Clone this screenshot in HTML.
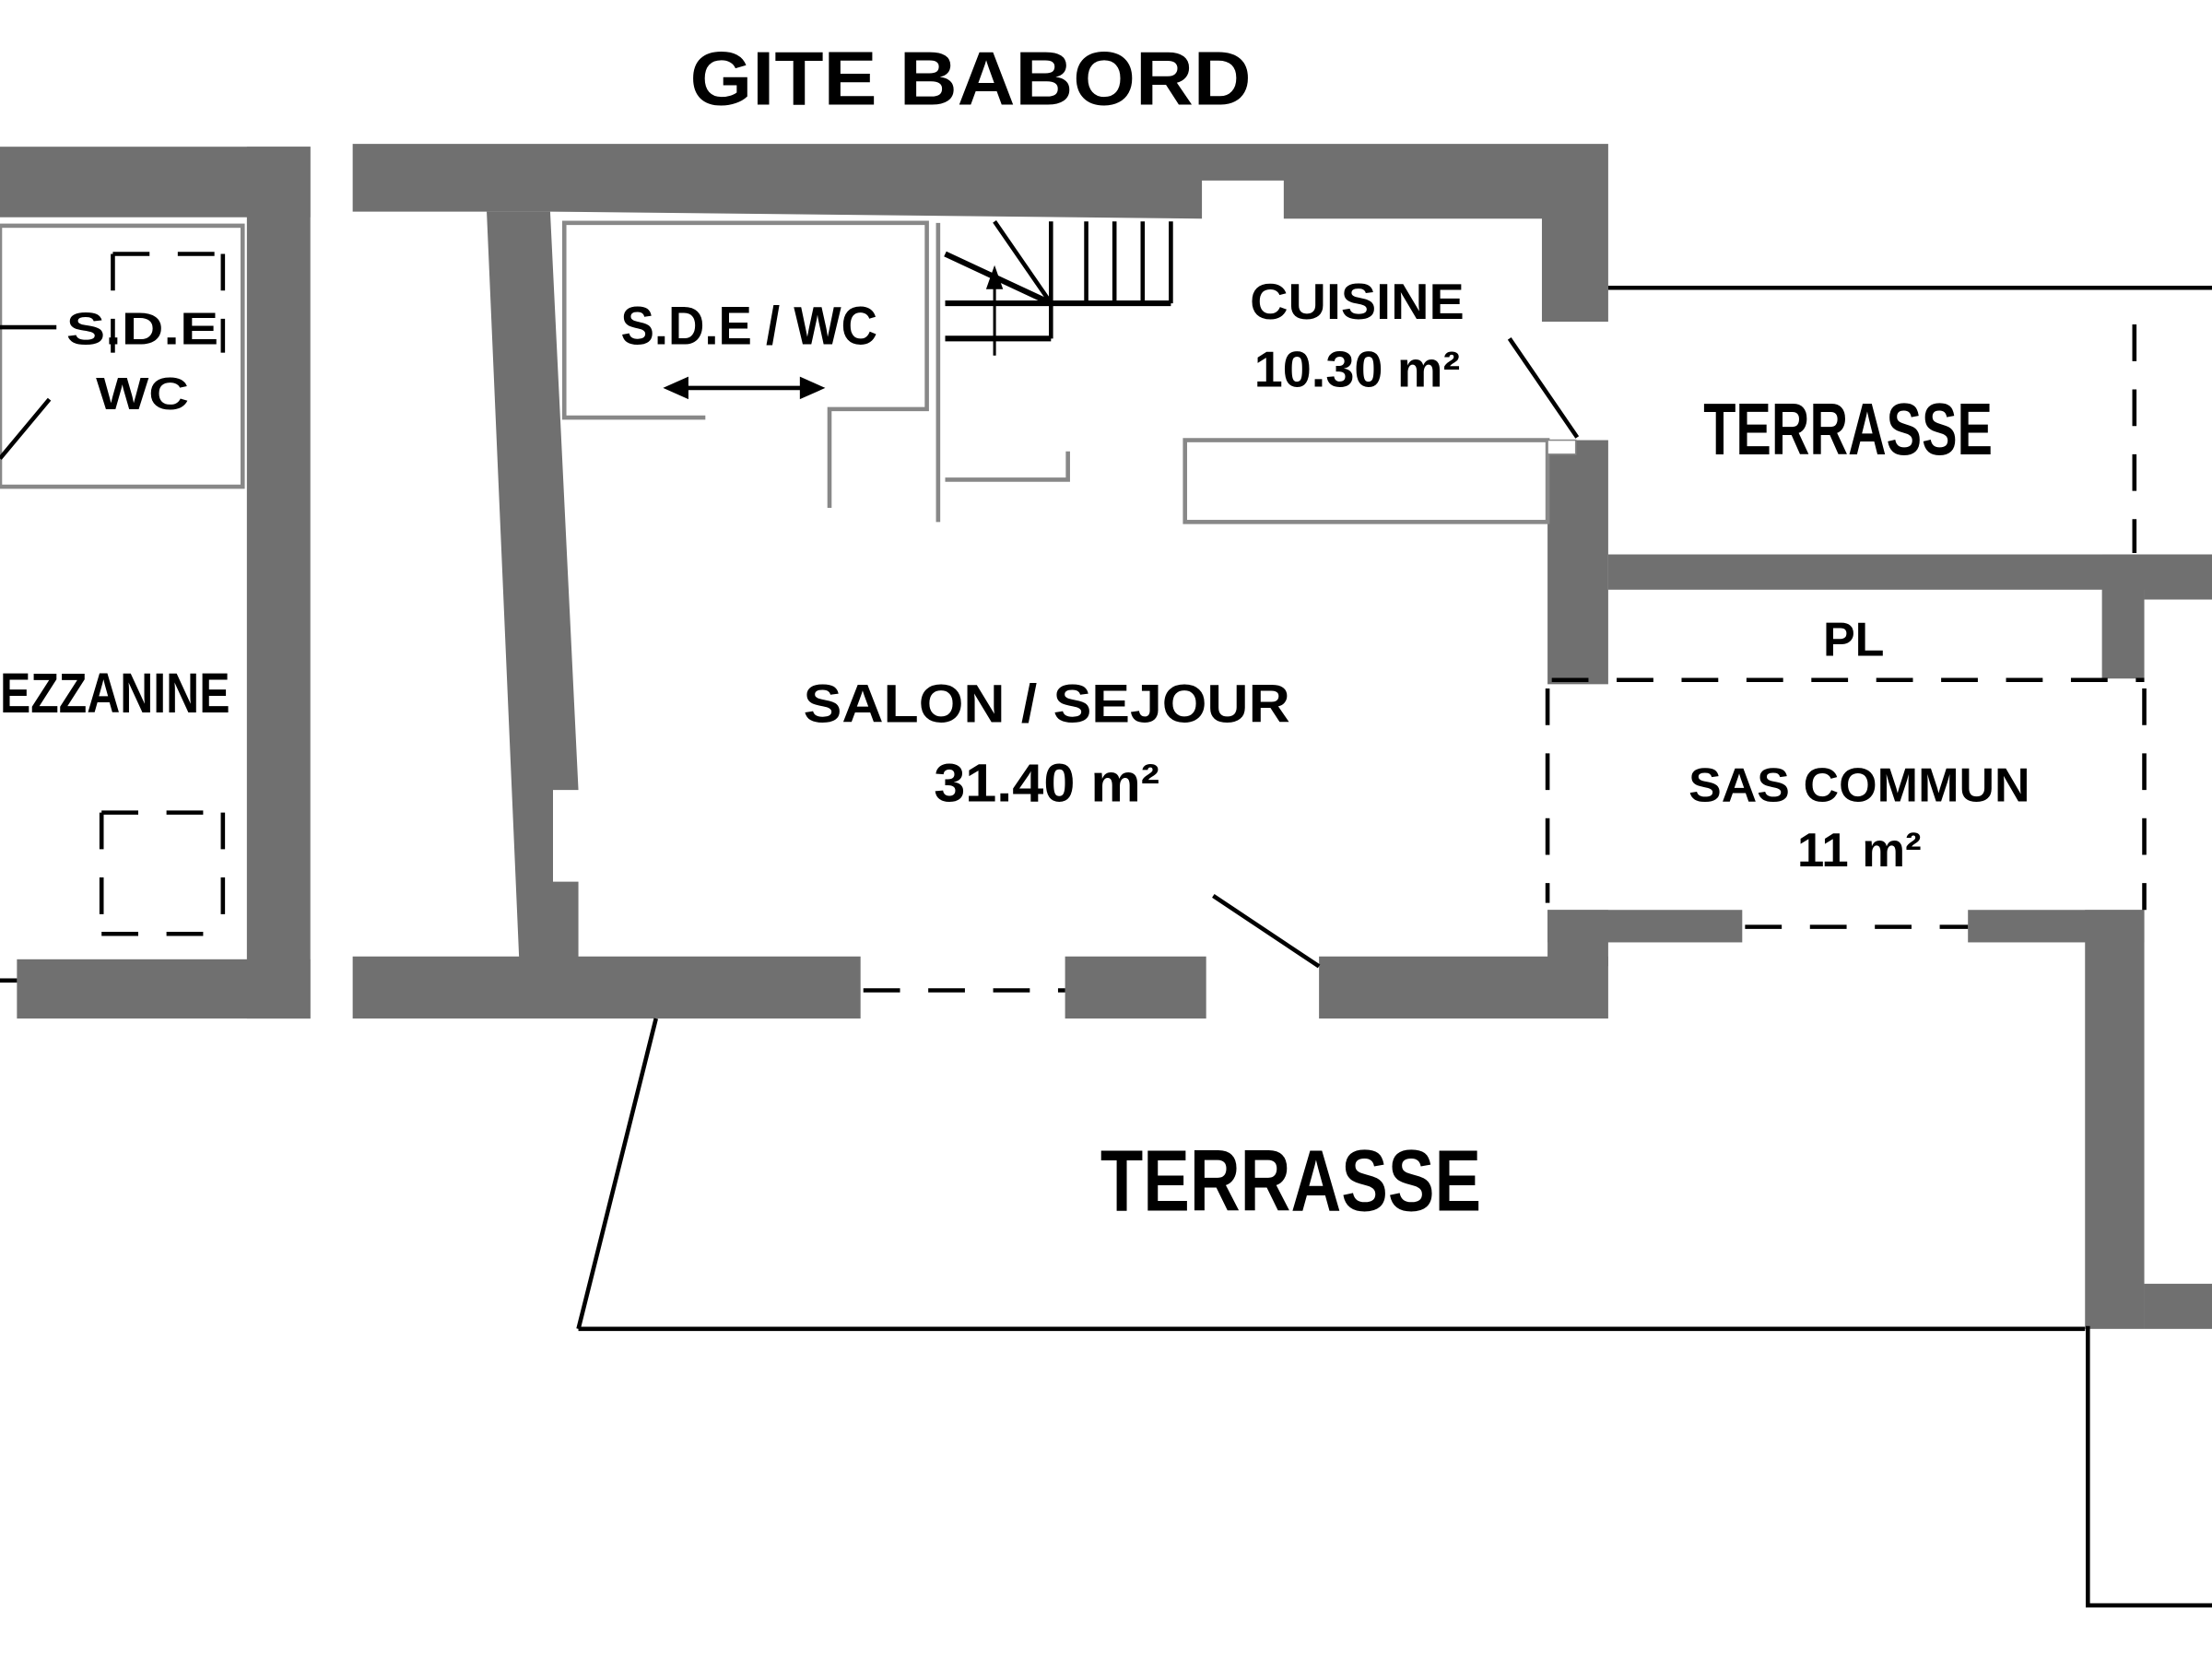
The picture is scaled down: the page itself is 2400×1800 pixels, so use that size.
<!DOCTYPE html>
<html><head><meta charset="utf-8"><style>
html,body{margin:0;padding:0;background:#fff;}
svg{display:block}
text{font-family:"Liberation Sans",Arial,sans-serif;font-weight:bold;fill:#000}
</style></head><body>
<svg width="2400" height="1800" viewBox="0 0 1568 1176" xmlns="http://www.w3.org/2000/svg">
<rect width="1568" height="1176" fill="#fff"/>
<g fill="#707070">
<!-- left building -->
<rect x="0" y="104" width="220" height="50"/>
<rect x="175" y="104" width="45" height="618"/>
<rect x="12" y="680" width="208" height="42"/>
<!-- main top wall -->
<polygon points="250,102 1140,102 1140,228 1093,228 1093,155 910,155 910,128 852,128 852,155 390,150 345,150 250,150"/>
<!-- left slanted wall -->
<polygon points="345,150 390,150 410,560 392,560 392,625 410,625 410,680 368,680"/>
<!-- bottom walls -->
<rect x="250" y="678" width="360" height="44"/>
<rect x="755" y="678" width="100" height="44"/>
<rect x="935" y="678" width="205" height="44"/>
<rect x="1097" y="645" width="43" height="40"/>
<rect x="1097" y="645" width="138" height="23"/>
<rect x="1395" y="645" width="125" height="23"/>
<rect x="1478" y="645" width="42" height="297"/>
<rect x="1520" y="910" width="48" height="32"/>
<!-- right walls -->
<rect x="1097" y="312" width="43" height="173"/>
<rect x="1140" y="393" width="428" height="25"/>
<rect x="1490" y="393" width="30" height="88"/>
<rect x="1520" y="393" width="48" height="32"/>
</g>
<!-- inner gray outlines -->
<g fill="none" stroke="#888" stroke-width="3">
<rect x="0" y="160" width="172" height="185"/>
<polyline points="500,296 400,296 400,158 657,158 657,290 588,290 588,360"/>
<polyline points="665,158 665,370"/>
<polyline points="670,340 757,340 757,320"/>
<rect x="840" y="312" width="257" height="58"/>
</g>
<rect x="1097" y="312" width="20" height="10" fill="#fff" stroke="#888" stroke-width="1"/>
<!-- black lines -->
<g stroke="#000" stroke-width="3" fill="none">
<line x1="1140" y1="204" x2="1568" y2="204"/>
<line x1="465" y1="722" x2="410" y2="942"/>
<line x1="410" y1="942" x2="1478" y2="942"/>
<polyline points="1480,940 1480,1138 1568,1138"/>
<line x1="860" y1="635" x2="935" y2="685"/>
<line x1="1070" y1="240" x2="1118" y2="310"/>
<line x1="0" y1="325" x2="35" y2="283"/>
<line x1="0" y1="695" x2="12" y2="695"/>
<line x1="0" y1="232" x2="40" y2="232"/>
<!-- stairs -->
<line x1="745" y1="157" x2="745" y2="240"/>
<line x1="770" y1="157" x2="770" y2="215"/>
<line x1="790" y1="157" x2="790" y2="215"/>
<line x1="810" y1="157" x2="810" y2="215"/>
<line x1="830" y1="157" x2="830" y2="215"/>
<line x1="670" y1="215" x2="830" y2="215" stroke-width="4"/>
<line x1="670" y1="240" x2="745" y2="240" stroke-width="4"/>
<line x1="705" y1="157" x2="745" y2="215"/>
<line x1="670" y1="180" x2="745" y2="215" stroke-width="4"/>
<line x1="705" y1="252" x2="705" y2="200" stroke-width="2"/>
<line x1="480" y1="275" x2="575" y2="275"/>
</g>
<polygon points="705,188 699,205 711,205" fill="#000"/>
<polygon points="470,275 488,267 488,283" fill="#000"/>
<polygon points="585,275 567,267 567,283" fill="#000"/>
<!-- dashed -->
<g stroke="#000" stroke-width="3" fill="none" stroke-dasharray="26,20">
<line x1="612" y1="702" x2="755" y2="702"/>
<line x1="1513" y1="230" x2="1513" y2="392"/>
<line x1="1100" y1="482" x2="1520" y2="482"/>
<line x1="1097" y1="488" x2="1097" y2="640"/>
<line x1="1520" y1="488" x2="1520" y2="645"/>
<line x1="1237" y1="657" x2="1395" y2="657"/>
<line x1="80" y1="180" x2="160" y2="180"/>
<line x1="72" y1="662" x2="160" y2="662"/>
<line x1="72" y1="576" x2="160" y2="576"/>
<line x1="72" y1="576" x2="72" y2="662"/>
<line x1="158" y1="576" x2="158" y2="662"/>
<line x1="80" y1="180" x2="80" y2="250"/>
<line x1="158" y1="180" x2="158" y2="250"/>
</g>
<!-- text -->
<text x="688" y="74" font-size="54" text-anchor="middle" textLength="398" lengthAdjust="spacingAndGlyphs">GITE BABORD</text>
<text x="531" y="244" font-size="38" text-anchor="middle" textLength="182" lengthAdjust="spacingAndGlyphs">S.D.E / WC</text>
<text x="962" y="226" font-size="36" text-anchor="middle" textLength="152" lengthAdjust="spacingAndGlyphs">CUISINE</text>
<text x="962" y="274" font-size="36" text-anchor="middle" textLength="146" lengthAdjust="spacingAndGlyphs">10.30 m²</text>
<text x="1310" y="322" font-size="52" text-anchor="middle" textLength="205" lengthAdjust="spacingAndGlyphs">TERRASSE</text>
<text x="1314" y="465" font-size="34" text-anchor="middle">PL</text>
<text x="742" y="512" font-size="38" text-anchor="middle" textLength="345" lengthAdjust="spacingAndGlyphs">SALON / SEJOUR</text>
<text x="742" y="568" font-size="38" text-anchor="middle" textLength="160" lengthAdjust="spacingAndGlyphs">31.40 m²</text>
<text x="1318" y="568" font-size="34" text-anchor="middle" textLength="242" lengthAdjust="spacingAndGlyphs">SAS COMMUN</text>
<text x="1318" y="614" font-size="34" text-anchor="middle" textLength="88" lengthAdjust="spacingAndGlyphs">11 m²</text>
<text x="915" y="858" font-size="62" text-anchor="middle" textLength="270" lengthAdjust="spacingAndGlyphs">TERRASSE</text>
<text x="163" y="505" font-size="40" text-anchor="end" textLength="163" lengthAdjust="spacingAndGlyphs">EZZANINE</text>
<text x="101" y="244" font-size="32" text-anchor="middle" textLength="108" lengthAdjust="spacingAndGlyphs">S.D.E</text>
<text x="101" y="290" font-size="32" text-anchor="middle" textLength="66" lengthAdjust="spacingAndGlyphs">WC</text>
</svg>
</body></html>
